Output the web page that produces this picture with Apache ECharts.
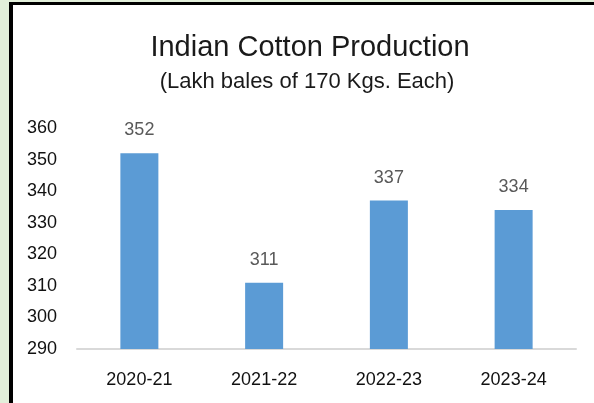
<!DOCTYPE html>
<html>
<head>
<meta charset="utf-8">
<script src="https://cdn.jsdelivr.net/npm/echarts@6/dist/echarts.min.js"></script>
<style>html,body{margin:0;padding:0;background:#fff;}#c{width:594px;height:403px;}</style>
</head>
<body>
<div id="c"></div>
<script>
var categories = ['2020-21', '2021-22', '2022-23', '2023-24'];
var production = [352, 311, 337, 334];
var yMin = 290, yMax = 360, yStep = 10;
var titleText = 'Indian Cotton Production';
var subtitleText = '(Lakh bales of 170 Kgs. Each)';

var chart = echarts.init(document.getElementById('c'), null, {renderer: 'canvas'});
var fontFam = '"Liberation Sans", Arial, sans-serif';
chart.setOption({
  animation: false,
  backgroundColor: '#ffffff',
  graphic: [
    {type: 'rect', shape: {x: 0, y: 0, width: 9, height: 403}, style: {fill: '#e2efda'}, silent: true},
    {type: 'rect', shape: {x: 0, y: 0, width: 594, height: 2}, style: {fill: '#e2efda'}, silent: true},
    {type: 'rect', shape: {x: 9, y: 2, width: 585, height: 3}, style: {fill: '#000000'}, silent: true},
    {type: 'rect', shape: {x: 9, y: 2, width: 4, height: 401}, style: {fill: '#000000'}, silent: true}
  ],
  title: [
    {text: titleText, left: 305, top: 28, textAlign: 'center',
     textStyle: {fontFamily: fontFam, fontSize: 29, fontWeight: 'normal', color: '#1a1a1a'}},
    {text: subtitleText, left: 302, top: 66, textAlign: 'center',
     textStyle: {fontFamily: fontFam, fontSize: 22, fontWeight: 'normal', color: '#1a1a1a'}}
  ],
  grid: {left: 77, right: 18, top: 128, bottom: 54, containLabel: false},
  xAxis: {
    type: 'category', data: categories,
    axisLine: {lineStyle: {color: '#d9d9d9', width: 2}},
    axisTick: {show: false},
    axisLabel: {fontFamily: fontFam, fontSize: 18, color: '#111', margin: 22}
  },
  yAxis: {
    type: 'value', min: yMin, max: yMax, interval: yStep,
    axisLine: {show: false}, axisTick: {show: false}, splitLine: {show: false},
    axisLabel: {fontFamily: fontFam, fontSize: 18, color: '#111', margin: 20}
  },
  series: [{
    type: 'bar', data: production, barWidth: 38,
    itemStyle: {color: '#5b9bd5'},
    label: {show: true, position: 'top', distance: 14, fontFamily: fontFam, fontSize: 18, color: '#595959'}
  }]
});
</script>
</body>
</html>
